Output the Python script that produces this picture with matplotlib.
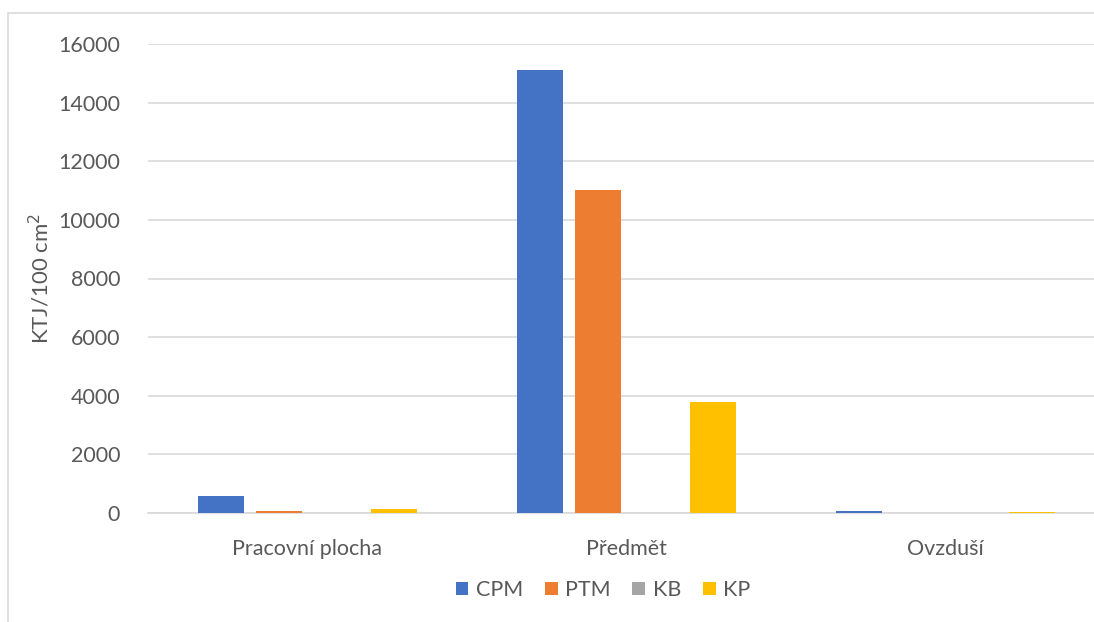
import matplotlib
matplotlib.use("Agg")
import matplotlib.pyplot as plt
from matplotlib.lines import Line2D
import numpy as np

categories = ["Pracovní plocha", "Předmět", "Ovzduší"]
series_names = ["CPM", "PTM", "KB", "KP"]
cpm = [580, 15110, 80]
ptm = [60, 11020, 0]
kb = [0, 0, 0]
kp = [130, 3790, 30]
colors = ["#4472C4", "#ED7D31", "#A5A5A5", "#FFC000"]
yticks = [0, 2000, 4000, 6000, 8000, 10000, 12000, 14000, 16000]

plt.rcParams['font.family'] = ['Lato', 'DejaVu Sans']
W, H = 1094, 622
fig = plt.figure(figsize=(W/100, H/100), dpi=100)
x0, x1 = 148, 1105
y0, y1 = 513, 44
ax = fig.add_axes([x0/W, (H-y0)/H, (x1-x0)/W, (y0-y1)/H])

x = np.arange(len(categories))
bw = 0.144
step = 0.1815
data = [cpm, ptm, kb, kp]
for i, (name, vals, c) in enumerate(zip(series_names, data, colors)):
    ax.bar(x + (i-1.5)*step, vals, width=bw, color=c, label=name, zorder=3)

ax.set_xlim(-0.5, 2.5)
ax.set_ylim(0, 16000)
ax.set_yticks(yticks)
ax.set_yticklabels([str(v) for v in yticks])
ax.set_xticks(x)
ax.set_xticklabels(categories)
ax.grid(axis='y', color='#D9D9D9', linewidth=1.2, zorder=0)
for s in ['top', 'right', 'left']:
    ax.spines[s].set_visible(False)
ax.spines['bottom'].set_color('#D9D9D9')
ax.spines['bottom'].set_linewidth(1.2)
ax.tick_params(axis='both', length=0, colors='#595959', labelsize=15.5)
ax.tick_params(axis='y', pad=20)
ax.tick_params(axis='x', pad=19)
ax.set_ylabel("KTJ/100 cm$^2$", color='#595959', fontsize=16, labelpad=4)

leg = fig.legend(loc='center', bbox_to_anchor=(603/W, (H-590)/H), ncol=4, frameon=False,
                 fontsize=15.5, handlelength=0.6, handleheight=0.6, columnspacing=1.0,
                 handletextpad=0.35, labelcolor='#595959')

fig.add_artist(Line2D([8/W, 8/W, 1.0], [0, (H-13)/H, (H-13)/H], transform=fig.transFigure,
                      color='#D9D9D9', linewidth=1.2))
fig.savefig("out.png", dpi=100)
